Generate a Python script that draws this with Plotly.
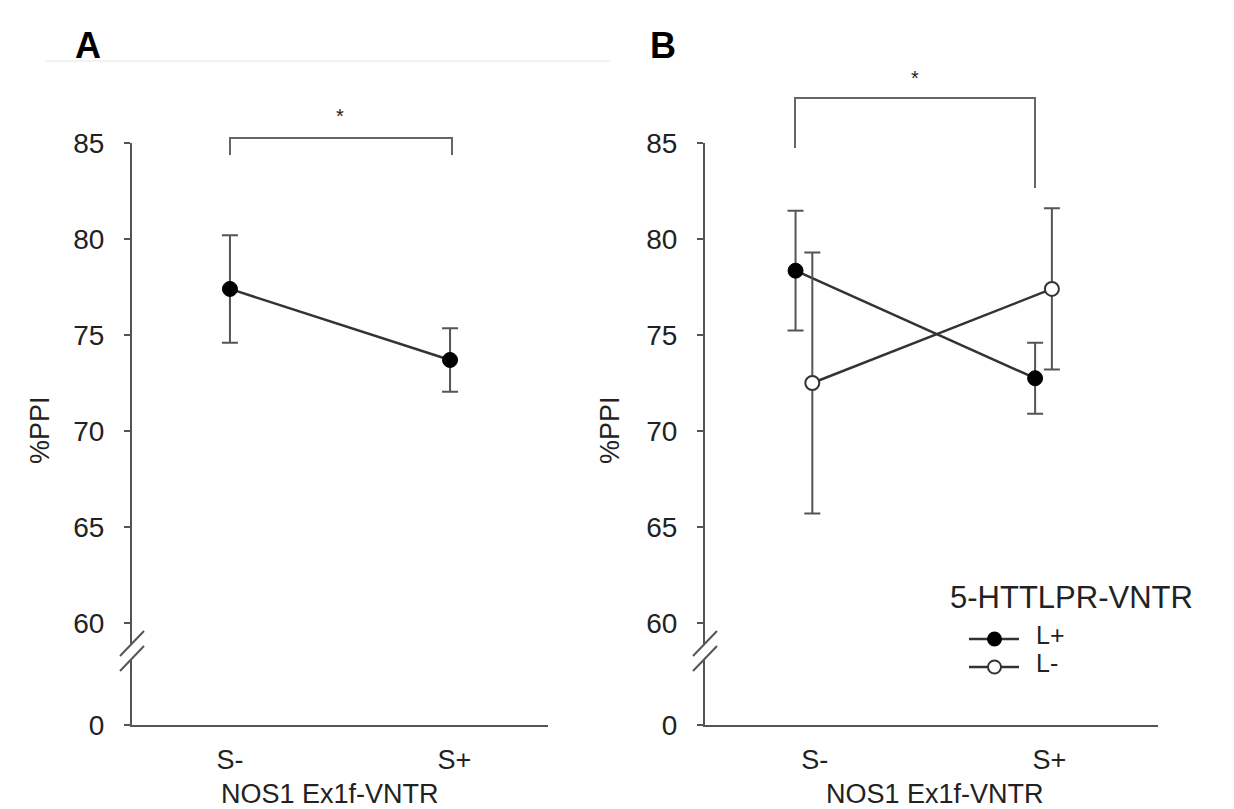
import plotly.graph_objects as go

# ---------------- data ----------------
categories = ["S-", "S+"]
cat_pos = [0, 1]

# Panel A: %PPI by NOS1 Ex1f-VNTR
a_mean = [77.4, 73.7]
a_err = [2.8, 1.65]

# Panel B: split by 5-HTTLPR-VNTR
series_names = ["L+", "L-"]
b_lplus_mean = [78.35, 72.75]
b_lplus_err = [3.12, 1.85]
b_lminus_mean = [72.5, 77.4]
b_lminus_err = [6.8, 4.2]

y_tick_vals = [54.69, 60, 65, 70, 75, 80, 85]
y_tick_text = ["0", "60", "65", "70", "75", "80", "85"]
legend_title = "5-HTTLPR-VNTR"
x_title = "NOS1 Ex1f-VNTR"
y_title = "%PPI"

# ---------------- layout helpers ----------------
W, H = 1234, 809
OX, OY = 8, 8  # page body offset compensation
FONT = "Liberation Sans, Arial, sans-serif"
AXC = "#555555"
LINEC = "#333333"
TXT = "#222222"


def px(x):
    return (x - OX) / W


def py(y):
    return 1 - (y - OY) / H


fig = go.Figure()

off = 0.035
# Panel A trace
fig.add_trace(go.Scatter(
    x=cat_pos, y=a_mean, mode="lines+markers", xaxis="x", yaxis="y",
    line=dict(color=LINEC, width=2.5),
    marker=dict(size=15, color="black", line=dict(color="black", width=1)),
    error_y=dict(type="data", array=a_err, color=AXC, thickness=2, width=8),
    showlegend=False))

# Panel B traces
fig.add_trace(go.Scatter(
    x=[c - off for c in cat_pos], y=b_lplus_mean, mode="lines+markers",
    xaxis="x2", yaxis="y2", name=series_names[0], showlegend=False,
    line=dict(color=LINEC, width=2.5),
    marker=dict(size=15, color="black", line=dict(color="black", width=1)),
    error_y=dict(type="data", array=b_lplus_err, color=AXC, thickness=2, width=8)))
fig.add_trace(go.Scatter(
    x=[c + off for c in cat_pos], y=b_lminus_mean, mode="lines+markers",
    xaxis="x2", yaxis="y2", name=series_names[1], showlegend=False,
    line=dict(color=LINEC, width=2.5),
    marker=dict(size=14, color="white", line=dict(color=LINEC, width=2)),
    error_y=dict(type="data", array=b_lminus_err, color=AXC, thickness=2, width=8)))

ydom = [py(725), py(143)]
yaxis_common = dict(
    domain=ydom, range=[54.69, 85.0], tickmode="array",
    tickvals=y_tick_vals, ticktext=y_tick_text, showline=True,
    linecolor=AXC, linewidth=2, ticks="outside", ticklen=6, tickwidth=2,
    tickcolor=AXC, showgrid=False, zeroline=False, ticklabelstandoff=14,
    automargin=False,
    tickfont=dict(family=FONT, size=28, color=TXT), fixedrange=True)
xaxis_common = dict(
    tickmode="array", ticktext=categories, showline=True, linecolor=AXC,
    linewidth=2, ticks="", showgrid=False, zeroline=False,
    ticklabelstandoff=10, automargin=False,
    tickfont=dict(family=FONT, size=27, color=TXT), fixedrange=True)

fig.update_layout(
    width=W, height=H,
    margin=dict(l=0, r=0, t=0, b=0, pad=0, autoexpand=False),
    paper_bgcolor="white", plot_bgcolor="white",
    xaxis=dict(domain=[px(132), px(548)], range=[-0.445, 1.445],
               tickvals=[0, 1.02], anchor="y", **xaxis_common),
    yaxis=dict(anchor="x", **yaxis_common),
    xaxis2=dict(domain=[px(705), px(1158)], range=[-0.413, 1.478],
                tickvals=[0.045, 1.025], anchor="y2", **xaxis_common),
    yaxis2=dict(anchor="x2", **yaxis_common),
    showlegend=False,
    font=dict(family=FONT, color=TXT),
)


def txt(text, x, y, size, angle=0, xanchor="center", bold=False):
    return dict(text=f"<b>{text}</b>" if bold else text, x=px(x), y=py(y),
                xref="paper", yref="paper", showarrow=False,
                xanchor=xanchor, yanchor="middle", textangle=angle,
                font=dict(family=FONT, size=size, color=TXT if not bold else "black"))


ann = []
# panel letters
ann.append(txt("A", 88, 45, 36, bold=True))
ann.append(txt("B", 663, 45, 36, bold=True))
# axis titles
for xc in (40, 610):
    ann.append(txt(y_title, xc, 430, 27, angle=-90))
for xc in (330, 935):
    ann.append(txt(x_title, xc, 794, 27))
# significance stars
ann.append(txt("*", 340, 116, 20))
ann.append(txt("*", 915, 78, 20))

# legend (manual)
ann.append(txt(legend_title, 948, 597, 31, xanchor="left"))
leg_y = [635, 663]
for name, yy in zip(series_names, leg_y):
    ann.append(txt(name, 1034, yy, 25, xanchor="left"))
fig.update_layout(annotations=ann)

shapes = []
bl = dict(color="#666666", width=2)
# bracket A
shapes.append(dict(type="path", xref="paper", yref="paper",
                   path=f"M {px(230)} {py(155)} L {px(230)} {py(138)} L {px(452)} {py(138)} L {px(452)} {py(155)}",
                   line=bl))
# bracket B
shapes.append(dict(type="path", xref="paper", yref="paper",
                   path=f"M {px(795)} {py(148)} L {px(795)} {py(98)} L {px(1035)} {py(98)} L {px(1035)} {py(188)}",
                   line=bl))
# axis breaks
for ax in (132, 705):
    def ly1(x):
        return 656 - (x - (ax - 12)) * 25 / 24

    def ly2(x):
        return 671 - (x - (ax - 12)) * 25 / 24
    x0, x1 = ax - 5, ax + 5
    shapes.append(dict(type="path", xref="paper", yref="paper",
                       path=(f"M {px(x0)} {py(ly1(x0))} L {px(x1)} {py(ly1(x1))} "
                             f"L {px(x1)} {py(ly2(x1))} L {px(x0)} {py(ly2(x0))} Z"),
                       fillcolor="white", line=dict(width=0), layer="above"))
    for f in (ly1, ly2):
        shapes.append(dict(type="line", xref="paper", yref="paper",
                           x0=px(ax - 12), y0=py(f(ax - 12)),
                           x1=px(ax + 12), y1=py(f(ax + 12)),
                           line=dict(color="#555555", width=2), layer="above"))
# legend glyphs
fills = ["black", "white"]
for fc, yy in zip(fills, leg_y):
    gy = yy + 4
    shapes.append(dict(type="line", xref="paper", yref="paper",
                       x0=px(969), x1=px(1019), y0=py(gy), y1=py(gy),
                       line=dict(color=LINEC, width=2.5)))
    shapes.append(dict(type="circle", xref="paper", yref="paper",
                       x0=px(988), x1=px(1001), y0=py(gy - 6.5), y1=py(gy + 6.5),
                       fillcolor=fc, line=dict(color=LINEC if fc == "white" else "black", width=2)))
# faint panel frame line at top
shapes.append(dict(type="line", xref="paper", yref="paper", x0=px(45), x1=px(610),
                   y0=py(61), y1=py(61), line=dict(color="#f2f2f2", width=2)))
fig.update_layout(shapes=shapes)

fig.write_html("out.html")
